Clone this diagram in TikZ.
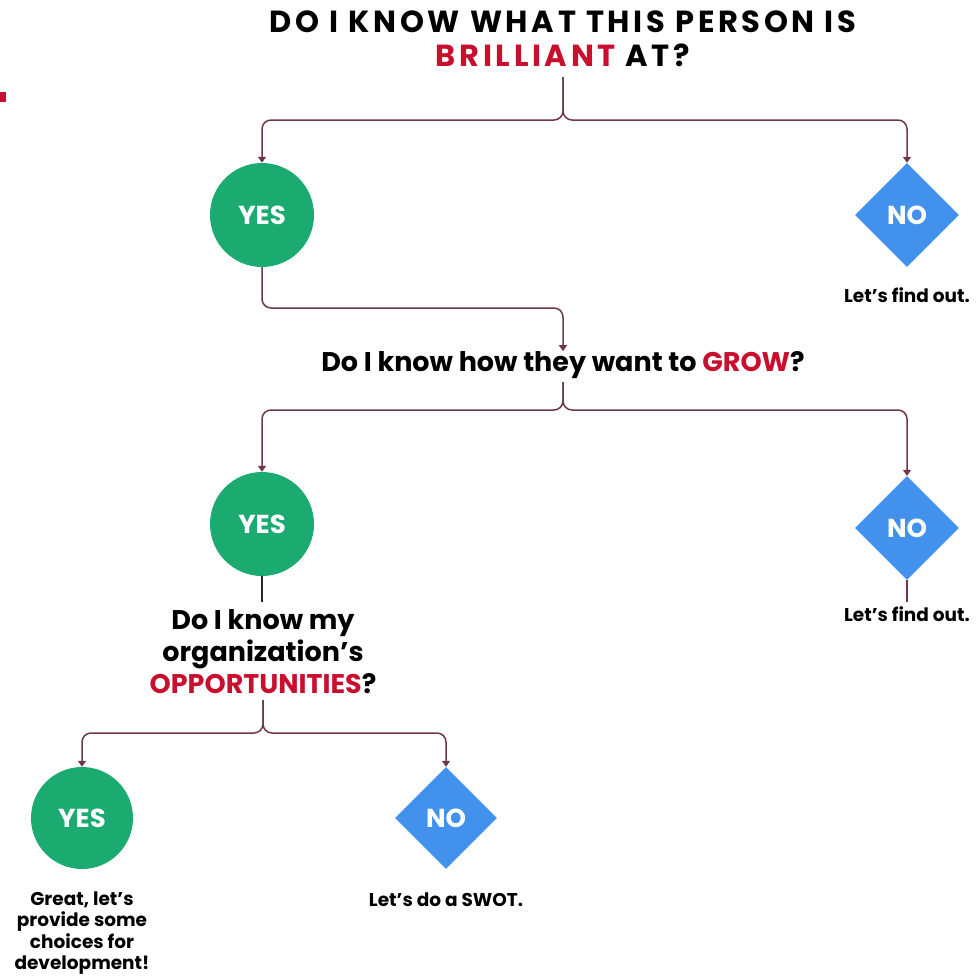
\documentclass[tikz,border=0pt]{standalone}
\usepackage{fontspec}
\setmainfont{Poppins}
\usetikzlibrary{shapes.geometric,arrows.meta}
\definecolor{cgreen}{RGB}{27,170,112}
\definecolor{cblue}{RGB}{66,145,236}
\definecolor{cred}{RGB}{200,16,46}
\definecolor{cline}{RGB}{110,56,72}
\begin{document}
\begin{tikzpicture}[x=1pt,y=-1pt,
  yesnode/.style={circle,fill=cgreen,minimum size=104pt,inner sep=0pt,text=white,font=\fontsize{26}{30}\selectfont\bfseries},
  nonode/.style={diamond,fill=cblue,minimum size=104pt,inner sep=0pt,text=white,font=\fontsize{26}{30}\selectfont\bfseries},
  qtext/.style={align=center,font=\fontsize{27}{32}\selectfont\bfseries,inner sep=0pt},
  note/.style={align=center,font=\fontsize{18.5}{21.5}\selectfont\bfseries,inner sep=0pt},
  conn/.style={draw=cline,line width=1.5pt,rounded corners=9pt},
  arr/.style={conn,-{Triangle[width=8pt,length=6pt]}},
  plain/.style={draw=cline,line width=1.5pt}]
\useasboundingbox (0,0) rectangle (977,977);
\fill[cred] (0,92) rectangle (6,102);
\node[qtext,font=\fontsize{30.5}{34}\selectfont\bfseries\addfontfeature{LetterSpace=12}] (title) at (563,39) {DO I KNOW WHAT THIS PERSON IS\\\textcolor{cred}{BRILLIANT} AT?};
\node[yesnode] (yes1) at (262,215) {YES};
\node[nonode] (no1) at (907,215) {NO};
\node[note] (find1) at (907,295) {Let’s find out.};
\node[qtext] (q2) at (563,365) {Do I know how they want to \textcolor{cred}{GROW}?};
\node[yesnode] (yes2) at (262,524) {YES};
\node[nonode] (no2) at (907,528) {NO};
\node[note] (find2) at (907,614) {Let’s find out.};
\node[qtext] (q3) at (263,652) {Do I know my\\organization’s\\\textcolor{cred}{OPPORTUNITIES}?};
\node[yesnode,minimum size=102pt] (yes3) at (82,818) {YES};
\node[nonode,minimum size=102pt] (no3) at (446,818) {NO};
\node[note] (swot) at (446,900) {Let’s do a SWOT.};
\node[note] (great) at (82,933) {Great, let’s\\provide some\\choices for\\development!};
\coordinate (c1) at (563,77);
\coordinate (c2) at (563,382);
\coordinate (c3) at (263,700);
\coordinate (c4) at (262,602);
\coordinate (c5) at (907,602);
\draw[arr] (c1) -- (563,120) -| (yes1.north);
\draw[arr] (c1) -- (563,120) -| (no1.north);
\draw[arr] (yes1.south) |- (563,308) -- (q2.north);
\draw[arr] (c2) -- (563,410) -| (yes2.north);
\draw[arr] (c2) -- (563,410) -| (no2.north);
\draw[plain,draw=black!85] (yes2.south) -- (c4);
\draw[plain] (no2.south) -- (c5);
\draw[arr] (c3) -- (263,733) -| (yes3.north);
\draw[arr] (c3) -- (263,733) -| (no3.north);
\end{tikzpicture}
\end{document}
